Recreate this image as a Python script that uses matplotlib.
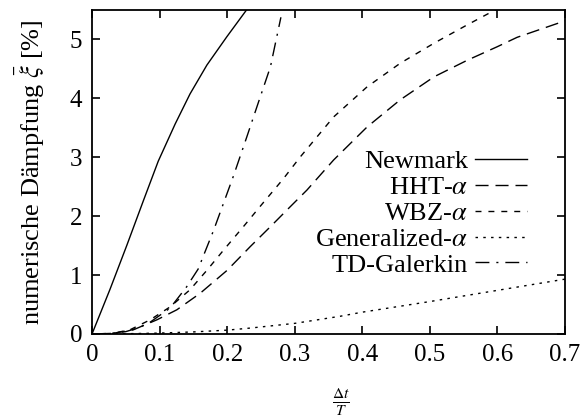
import matplotlib

matplotlib.use("Agg")
import matplotlib.pyplot as plt

plt.rcParams["font.family"] = "serif"
plt.rcParams["font.serif"] = ["Liberation Serif", "DejaVu Serif"]
plt.rcParams["mathtext.fontset"] = "stix"

# ─── Data ─────────────────────────────────────────────────────────────────────
newmark_x = [0, 0.0267, 0.0514, 0.076, 0.098, 0.123, 0.145, 0.170, 0.1995, 0.229]
newmark_y = [0, 0.76, 1.5, 2.26, 2.93, 3.56, 4.07, 4.56, 5.04, 5.5]

hht_x = [0, 0.03, 0.061, 0.096, 0.1255, 0.16, 0.2, 0.234, 0.264, 0.29, 0.318,
         0.3575, 0.407, 0.456, 0.506, 0.555, 0.5995, 0.629, 0.7]
hht_y = [0, 0.01, 0.07, 0.24, 0.41, 0.69, 1.08, 1.48, 1.82, 2.12, 2.44,
         2.95, 3.51, 3.97, 4.36, 4.64, 4.87, 5.03, 5.31]

wbz_x = [0, 0.03, 0.056, 0.086, 0.1156, 0.145, 0.170, 0.1945, 0.224, 0.25,
         0.283, 0.308, 0.3575, 0.407, 0.456, 0.506, 0.555, 0.5975]
wbz_y = [0, 0.01, 0.07, 0.24, 0.46, 0.75, 1.08, 1.42, 1.82, 2.18,
         2.63, 3.0, 3.68, 4.19, 4.59, 4.93, 5.24, 5.5]

genalpha_x = [0, 0.05, 0.1, 0.15, 0.2, 0.234, 0.3, 0.367, 0.4, 0.5, 0.6, 0.7]
genalpha_y = [0, 0.004, 0.015, 0.035, 0.065, 0.1, 0.18, 0.3, 0.37, 0.55, 0.74, 0.93]

tdg_x = [0, 0.03, 0.05, 0.07, 0.086, 0.1156, 0.14, 0.157, 0.18, 0.209, 0.229,
         0.246, 0.264, 0.2795]
tdg_y = [0, 0.01, 0.04, 0.11, 0.2, 0.44, 0.8, 1.1, 1.76, 2.67, 3.34,
         3.92, 4.53, 5.37]

x_ticks = [0, 0.1, 0.2, 0.3, 0.4, 0.5, 0.6, 0.7]
x_ticklabels = ["0", "0.1", "0.2", "0.3", "0.4", "0.5", "0.6", "0.7"]
y_ticks = [0, 1, 2, 3, 4, 5]

# ─── Plot ─────────────────────────────────────────────────────────────────────
TICK_FS = 18
TEXT_FS = 19
LW = 1.0

fig = plt.figure(figsize=(5.88, 4.18), dpi=100)
ax = fig.add_axes([0.1565, 0.201, 0.8045, 0.776])

ax.plot(newmark_x, newmark_y, color="black", lw=LW, label="Newmark")
ax.plot(hht_x, hht_y, color="black", lw=LW, dashes=(9.4, 5),
        label=r"HHT-$\alpha$")
ax.plot(wbz_x, wbz_y, color="black", lw=LW, dashes=(4.3, 5),
        label=r"WBZ-$\alpha$")
ax.plot(genalpha_x, genalpha_y, color="black", lw=LW, dashes=(1.8, 3.8),
        label=r"Generalized-$\alpha$")
ax.plot(tdg_x, tdg_y, color="black", lw=LW, dashes=(10, 5, 1.5, 5),
        label="TD-Galerkin")

ax.set_xlim(0, 0.7)
ax.set_ylim(0, 5.5)
ax.set_xticks(x_ticks)
ax.set_xticklabels(x_ticklabels)
ax.set_yticks(y_ticks)

ax.tick_params(direction="in", length=6, width=1.2, top=True, right=True,
               labelsize=TICK_FS)
ax.tick_params(axis="x", pad=7)
ax.tick_params(axis="y", pad=7)
for spine in ax.spines.values():
    spine.set_linewidth(1.3)

ax.set_ylabel(r"numerische Dämpfung $\bar{\xi}$ [%]", fontsize=TEXT_FS)
ax.yaxis.set_label_coords(-0.095, 0.5)
ax.set_xlabel(r"$\frac{\Delta t}{T}$", fontsize=16)
ax.xaxis.set_label_coords(0.526, -0.16)

leg = ax.legend(loc="upper right", bbox_to_anchor=(0.92, 0.568),
                frameon=False, markerfirst=False, fontsize=TEXT_FS,
                handlelength=1.97, handletextpad=0.27, labelspacing=0.09,
                borderpad=0, borderaxespad=0)

fig.savefig("out.png", dpi=100)
